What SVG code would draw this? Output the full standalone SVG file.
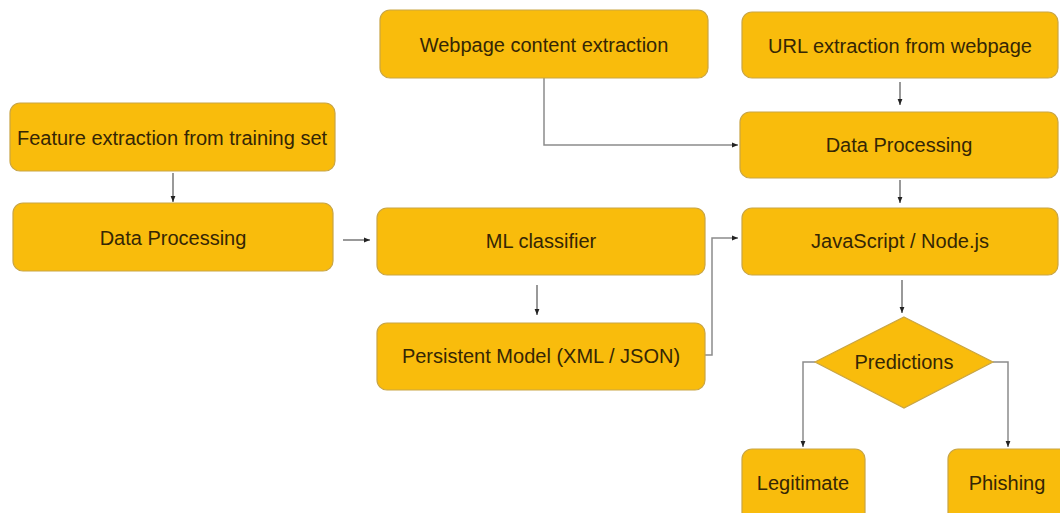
<svg xmlns="http://www.w3.org/2000/svg" width="1060" height="513" viewBox="0 0 1060 513">
<style>
.box{fill:#F9BC0C;stroke:#C9A544;stroke-width:1.2}
.t{font-family:"Liberation Sans",Arial,sans-serif;font-size:20px;fill:#352605;text-anchor:middle;dominant-baseline:central}
.c{fill:none;stroke:#555;stroke-width:1.2}
.g{fill:none;stroke:#8C8C8C;stroke-width:1.5}
</style>
<defs>
<marker id="ah" viewBox="0 0 10 10" refX="10" refY="5" markerWidth="6" markerHeight="6" orient="auto" markerUnits="userSpaceOnUse">
<path d="M0,1 L10,5 L0,9 z" fill="#222"/>
</marker>
</defs>
<rect width="1060" height="513" fill="#fff"/>
<g id="connectors">
<line class="c" x1="173" y1="173" x2="173" y2="202" marker-end="url(#ah)"/>
<line class="c" x1="343" y1="240" x2="370" y2="240" marker-end="url(#ah)"/>
<line class="c" x1="537" y1="285" x2="537" y2="315" marker-end="url(#ah)"/>
<polyline class="g" points="705,355 712,355 712,238 738,238" marker-end="url(#ah)"/>
<polyline class="g" points="544,78 544,145 738,145" marker-end="url(#ah)"/>
<line class="c" x1="900" y1="82" x2="900" y2="105" marker-end="url(#ah)"/>
<line class="c" x1="900" y1="180" x2="900" y2="203" marker-end="url(#ah)"/>
<line class="c" x1="902" y1="280" x2="902" y2="313" marker-end="url(#ah)"/>
<polyline class="g" points="815,362 803,362 803,447" marker-end="url(#ah)"/>
<polyline class="g" points="993,362 1008,362 1008,447" marker-end="url(#ah)"/>
</g>
<g id="feature-extraction">
<rect class="box" x="10" y="103" width="325" height="68" rx="10"/>
<text class="t" x="172" y="138">Feature extraction from training set</text>
</g>
<g id="data-processing-left">
<rect class="box" x="13" y="203" width="320" height="68" rx="10"/>
<text class="t" x="173" y="238">Data Processing</text>
</g>
<g id="webpage-content">
<rect class="box" x="380" y="10" width="328" height="68" rx="10"/>
<text class="t" x="544" y="45">Webpage content extraction</text>
</g>
<g id="url-extraction">
<rect class="box" x="742" y="12" width="316" height="66" rx="10"/>
<text class="t" x="900" y="46">URL extraction from webpage</text>
</g>
<g id="data-processing-right">
<rect class="box" x="740" y="112" width="318" height="66" rx="10"/>
<text class="t" x="899" y="145">Data Processing</text>
</g>
<g id="ml-classifier">
<rect class="box" x="377" y="208" width="328" height="67" rx="10"/>
<text class="t" x="541" y="241">ML classifier</text>
</g>
<g id="persistent-model">
<rect class="box" x="377" y="323" width="328" height="67" rx="10"/>
<text class="t" x="541" y="356">Persistent Model (XML / JSON)</text>
</g>
<g id="javascript-node">
<rect class="box" x="742" y="208" width="316" height="67" rx="10"/>
<text class="t" x="900" y="241">JavaScript / Node.js</text>
</g>
<g id="predictions">
<polygon class="box" points="904,317 993,362 904,408 815,362"/>
<text class="t" x="904" y="362">Predictions</text>
</g>
<g id="legitimate">
<rect class="box" x="742" y="449" width="123" height="75" rx="10"/>
<text class="t" x="803" y="483">Legitimate</text>
</g>
<g id="phishing">
<rect class="box" x="948" y="449" width="125" height="75" rx="10"/>
<text class="t" x="1007" y="483">Phishing</text>
</g>
</svg>
